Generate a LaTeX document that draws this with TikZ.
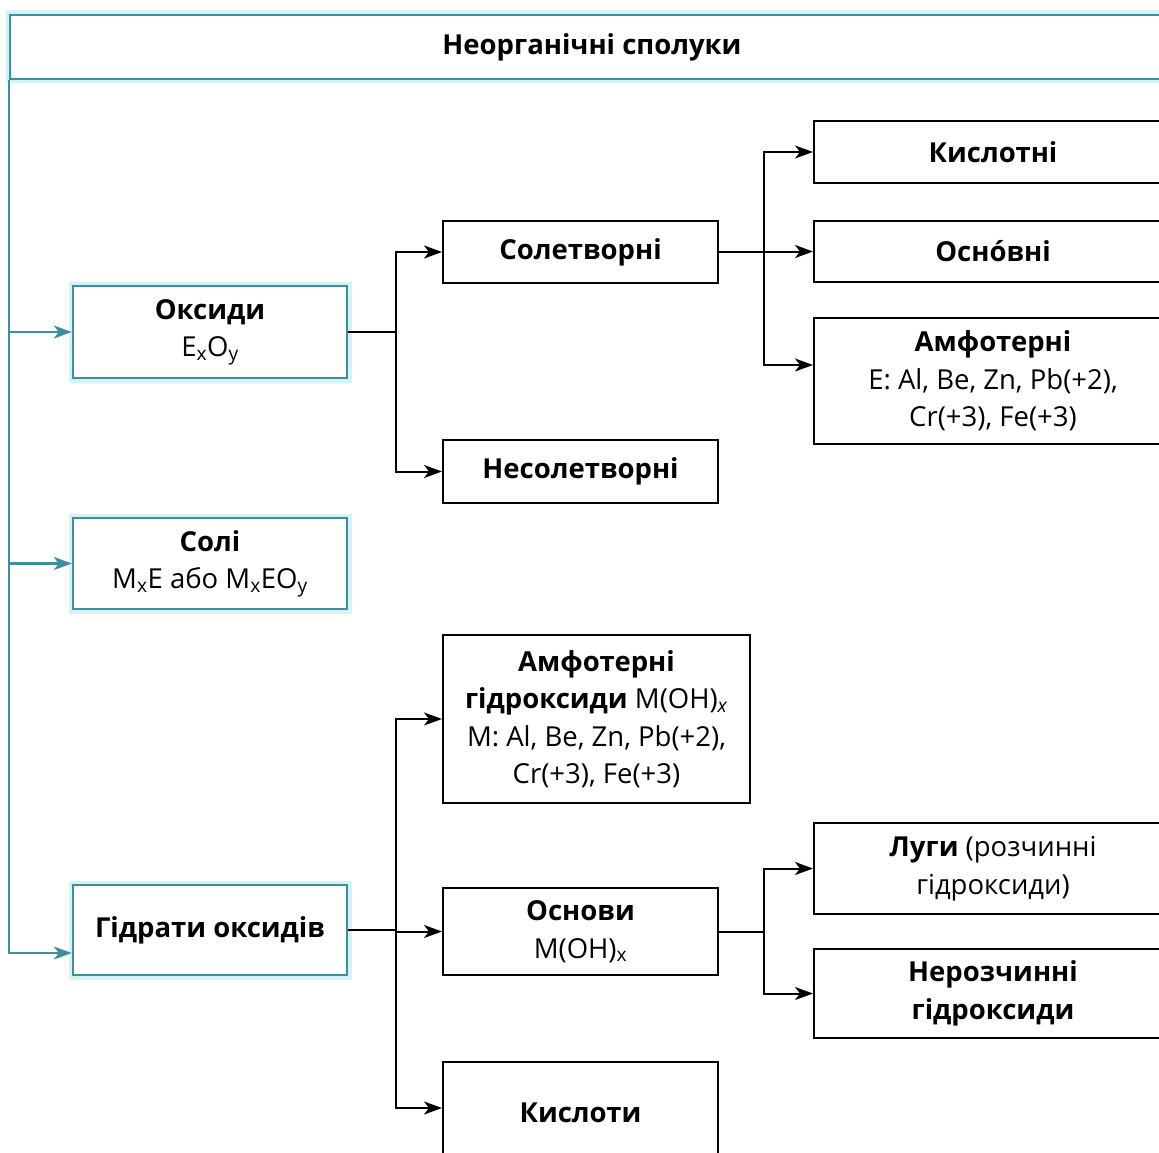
\documentclass[tikz,border=0pt]{standalone}
\usepackage{fontspec}
\setmainfont{Open Sans}
\usepackage{tikz}
\usetikzlibrary{arrows.meta,positioning,calc}
\definecolor{tealline}{RGB}{62,142,156}
\definecolor{tealglow}{RGB}{212,243,247}

\begin{document}
\begin{tikzpicture}[x=1pt,y=-1pt,
    box/.style={draw,line width=2pt,fill=white,align=center,inner sep=2pt,font=\fontsize{27.5}{37.5}\selectfont},
    tbox/.style={box,draw=tealline,line width=2.4pt,preaction={draw=tealglow,line width=9pt}},
    arr/.style={-{Stealth[length=18pt,width=13pt,inset=5pt]},line width=2pt},
    tarr/.style={arr,draw=tealline,line width=2.2pt}]
    \useasboundingbox (0,0) rectangle (1159,1153);
    \clip (0,0) rectangle (1159,1153);
    \node[tbox,minimum width=1164pt,minimum height=64pt] (top) at (592,47) {\textbf{Неорганічні сполуки}};
    \node[tbox,minimum width=274pt,minimum height=92pt] (oks) at (210,332) {\textbf{Оксиди}\\E\textsubscript{x}O\textsubscript{y}};
    \node[tbox,minimum width=274pt,minimum height=91pt] (soli) at (210,563.5) {\textbf{Солі}\\M\textsubscript{x}E або M\textsubscript{x}EO\textsubscript{y}};
    \node[tbox,minimum width=274pt,minimum height=90pt] (gidr) at (210,930) {\textbf{Гідрати оксидів}};
    \node[box,minimum width=275pt,minimum height=62pt] (solet) at (580.5,252) {\textbf{Солетворні}};
    \node[box,minimum width=275pt,minimum height=63pt] (nesolet) at (580.5,471.5) {\textbf{Несолетворні}};
    \node[box,minimum width=358pt,minimum height=62pt] (kysl) at (993,152) {\textbf{Кислотні}};
    \node[box,minimum width=358pt,minimum height=61pt] (osn) at (993,251.5) {\textbf{Осно́вні}};
    \node[box,minimum width=358pt,minimum height=126pt] (amf) at (993,381) {\textbf{Амфотерні}\\E: Al, Be, Zn, Pb(+2),\\Cr(+3), Fe(+3)};
    \node[box,minimum width=307pt,minimum height=168pt] (amfg) at (596.5,719) {\textbf{Амфотерні}\\\textbf{гідроксиди} M(OH)\textsubscript{\textit{x}}\\M: Al, Be, Zn, Pb(+2),\\Cr(+3), Fe(+3)};
    \node[box,minimum width=275pt,minimum height=87pt] (osnovy) at (580.5,931.5) {\textbf{Основи}\\M(OH)\textsubscript{x}};
    \node[box,minimum width=275pt,minimum height=102pt] (kslt) at (580.5,1113) {\textbf{Кислоти}};
    \node[box,minimum width=358pt,minimum height=91pt] (lugy) at (993,868.5) {\textbf{Луги} (розчинні\\гідроксиди)};
    \node[box,minimum width=358pt,minimum height=89pt] (nerozch) at (993,993.5) {\textbf{Нерозчинні}\\\textbf{гідроксиди}};
    \draw[tarr] (top.south west) |- ([yshift=-23pt]gidr.west);
    \draw[tarr] (top.south west |- oks.west) -- (oks.west);
    \draw[tarr] (top.south west |- soli.west) -- (soli.west);
    \draw[line width=2pt] (oks.east) -- ++(48,0) coordinate (j1);
    \draw[arr] (j1) |- (solet.west);
    \draw[arr] (j1) |- (nesolet.west);
    \draw[line width=2pt] (solet.east) -- ++(45,0) coordinate (j2);
    \draw[arr] (j2) |- (kysl.west);
    \draw[arr] (j2) |- (osn.west);
    \draw[arr] (j2) |- ([yshift=16pt]amf.west);
    \draw[line width=2pt] (gidr.east) -- ++(48,0) coordinate (j3);
    \draw[arr] (j3) |- (amfg.west);
    \draw[arr] (j3) |- (osnovy.west);
    \draw[arr] (j3) |- ([yshift=5pt]kslt.west);
    \draw[line width=2pt] (osnovy.east) -- ++(45,0) coordinate (j4);
    \draw[arr] (j4) |- (lugy.west);
    \draw[arr] (j4) |- (nerozch.west);
\end{tikzpicture}
\end{document}
